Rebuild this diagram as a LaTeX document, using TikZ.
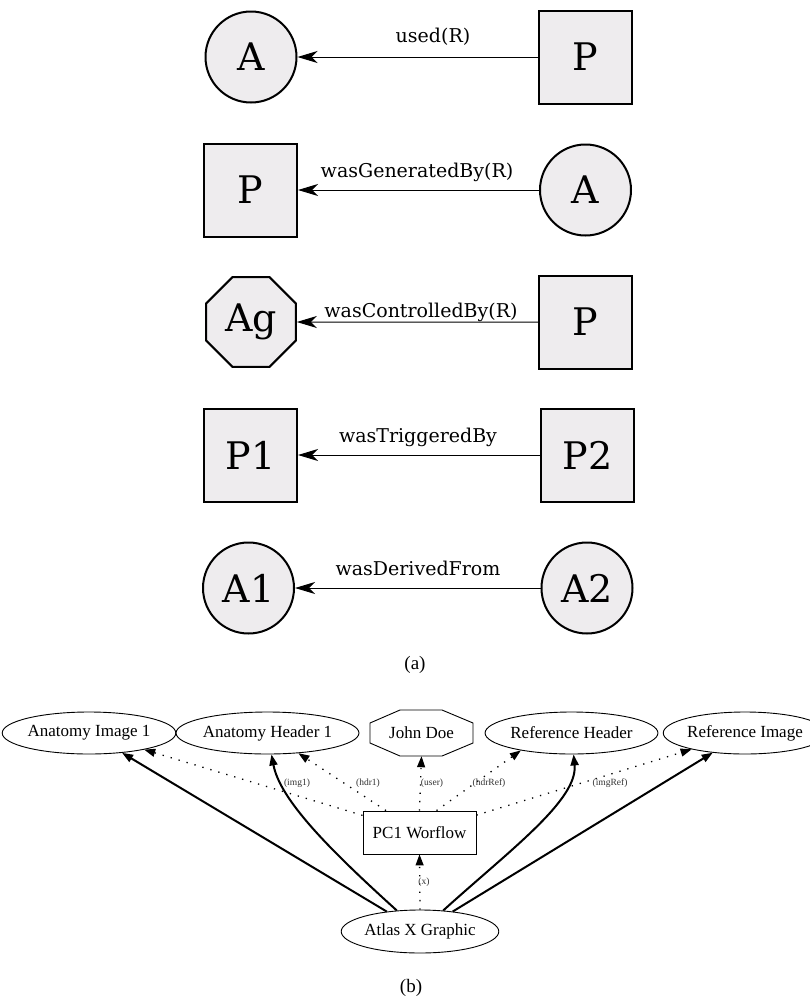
\documentclass[tikz,border=0pt]{standalone}
\usepackage{fontspec}
\setmainfont{DejaVu Serif}
\newfontfamily\timesf{Liberation Serif}
\usetikzlibrary{shapes.geometric,arrows.meta}
\definecolor{boxgray}{HTML}{EEECEE}
\begin{document}
\begin{tikzpicture}[x=1pt,y=-1pt,
  big/.style={fill=boxgray,draw=black,line width=2pt,font=\fontsize{38}{40}\selectfont,inner sep=0pt},
  pcirc/.style={big,circle,minimum size=91pt},
  psq/.style={big,rectangle,minimum size=93pt},
  poct/.style={big,regular polygon,regular polygon sides=8,minimum size=97pt},
  rel/.style={line width=1pt,-{Stealth[length=20pt,width=12pt,inset=6pt]}},
  rlab/.style={font=\fontsize{19}{22}\selectfont,anchor=base,inner sep=0pt},
  captxt/.style={font=\timesf\fontsize{19}{21}\selectfont,inner sep=0pt},
  ell/.style={draw=black,ellipse,line width=0.9pt,inner sep=0pt,font=\timesf\fontsize{17}{19}\selectfont},
  gbox/.style={draw=black,rectangle,line width=0.9pt,inner sep=0pt,font=\timesf\fontsize{17}{19}\selectfont},
  solidarr/.style={line width=2pt,-{Triangle[length=11pt,width=8pt]}},
  dotarr/.style={line width=1.3pt,dash pattern=on 1.3pt off 7pt,-{Triangle[length=11pt,width=8pt]}},
  elab/.style={font=\timesf\fontsize{9.5}{11}\selectfont,inner sep=0pt,text=black!80}
]
\useasboundingbox[fill=white] (0,0) rectangle (810,997);
% ---------- (a) ----------
\node[pcirc] (a1) at (251,57) {A};
\node[psq] (p1) at (585.5,57) {P};
\draw[rel] (p1) -- (a1);
\node[rlab] (l1) at (433,42) {used(R)};

\node[psq] (p2) at (250.5,190) {P};
\node[pcirc] (a2) at (585.5,190) {A};
\draw[rel] (a2) -- (p2);
\node[rlab] (l2) at (417,177) {wasGeneratedBy(R)};

\node[poct] (ag) at (251,322) {Ag};
\node[psq] (p3) at (585.5,322) {P};
\draw[rel] (p3) -- (ag);
\node[rlab] (l3) at (421,317) {wasControlledBy(R)};

\node[psq] (p4) at (250.5,455) {P1};
\node[psq] (p5) at (587.5,455) {P2};
\draw[rel] (p5) -- (p4);
\node[rlab] (l4) at (418,442) {wasTriggeredBy};

\node[pcirc] (a3) at (248.5,588) {A1};
\node[pcirc] (a4) at (587,588) {A2};
\draw[rel] (a4) -- (a3);
\node[rlab] (l5) at (418,575) {wasDerivedFrom};

\node[captxt] (capa) at (415,665) {(a)};

% ---------- (b) ----------
\node[ell,minimum width=154pt,minimum height=42pt] (ai) at (89,733) {Anatomy Image 1};
\node[ell,minimum width=161pt,minimum height=42pt] (ah) at (267.5,733) {Anatomy Header 1};
\node[minimum width=103pt,minimum height=46pt,inner sep=0pt,font=\timesf\fontsize{17}{19}\selectfont] (jd) at (421.5,733) {John Doe};
\draw[line width=0.9pt,shift={(jd.center)}] (-51.5,10) -- (-51.5,-10) -- (-21.5,-23) -- (20.5,-23) -- (51.5,-10) -- (51.5,10) -- (20.5,23) -- (-21.5,23) -- cycle;
\node[ell,minimum width=157pt,minimum height=42pt] (rh) at (571.5,733) {Reference Header};
\node[ell,minimum width=146pt,minimum height=42pt] (ri) at (745,733) {Reference Image};
\node[gbox,minimum width=113pt,minimum height=43pt] (pc) at (419.5,832.5) {PC1 Worflow};
\node[ell,minimum width=144pt,minimum height=43pt] (ax) at (420,931.5) {Atlas X Graphic};

\draw[solidarr] (ax) -- (ai);
\draw[solidarr] (ax) .. controls (330,850) and (280,800) .. (ah);
\draw[solidarr] (ax) .. controls (510,850) and (578,800) .. (rh);
\draw[solidarr] (ax) -- (ri);

\draw[dotarr] (pc) -- (ai);
\draw[dotarr] (pc) -- (ah);
\draw[dotarr] (pc.north) -- (jd.south);
\draw[dotarr] ([xshift=17pt]pc.north) -- (rh.199);
\draw[dotarr] (pc) -- (ri);
\draw[dotarr] (ax.north) -- (pc.south);

\node[elab] (e1) at (297,783) {(img1)};
\node[elab] (e2) at (368,783) {(hdr1)};
\node[elab] (e3) at (432,783) {(user)};
\node[elab] (e4) at (489,783) {(hdrRef)};
\node[elab] (e5) at (610,783) {(imgRef)};
\node[elab] (e6) at (424,882) {(x)};

\node[captxt] (capb) at (411,988) {(b)};
\end{tikzpicture}
\end{document}
